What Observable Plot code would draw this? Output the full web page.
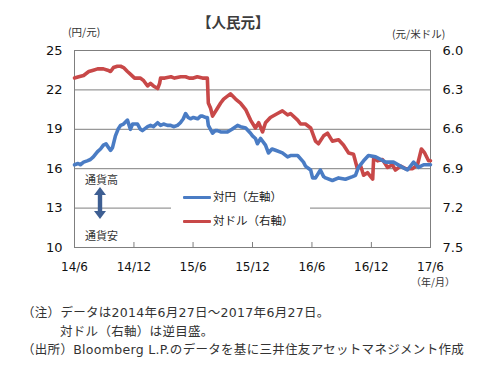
<!DOCTYPE html>
<html>
<head>
<meta charset="utf-8">
<script src="https://cdn.jsdelivr.net/npm/d3@7"></script>
<script src="https://cdn.jsdelivr.net/npm/@observablehq/plot@0.6"></script>
<style>
  html, body { margin: 0; padding: 0; background: #fff; }
  #wrap { position: relative; width: 499px; height: 371px; overflow: hidden; background: #fff;
          font-family: 'DejaVu Sans', 'Noto Sans CJK JP', sans-serif; color: #222; }
  .abs { position: absolute; white-space: nowrap; line-height: 1; }
  .note { line-height: 13px; height: 13px; font-size: 12.5px; letter-spacing: 0.3px; color: #333;
          font-family: 'DejaVu Sans', 'Noto Sans CJK JP', sans-serif; }
  #chart { position: absolute; left: 0; top: 0; }
</style>
</head>
<body>
<div id="wrap">
  <div id="chart"></div>
  <div class="abs" id="title" style="left:197px; top:15px; font-size:14.5px; font-weight:bold; color:#3c3c3c; font-family:'Noto Sans CJK JP',sans-serif;"></div>
  <div class="abs" id="unitL" style="left:68px; top:27px; font-size:10.5px; color:#333; font-family:'Noto Sans CJK JP',sans-serif;"></div>
  <div class="abs" id="unitR" style="left:392px; top:29px; font-size:10.5px; color:#333; font-family:'Noto Sans CJK JP',sans-serif;"></div>
  <div class="abs" id="unitX" style="left:411px; top:277px; font-size:10px; color:#333; font-family:'Noto Sans CJK JP',sans-serif;"></div>
  <div class="abs" id="up" style="left:85px; top:174px; font-size:11px; color:#333; font-family:'Noto Sans CJK JP',sans-serif;"></div>
  <div class="abs" id="down" style="left:85px; top:230px; font-size:11px; color:#333; font-family:'Noto Sans CJK JP',sans-serif;"></div>
  <svg class="abs" style="left:93px; top:187px;" width="14" height="32" viewBox="0 0 14 32">
    <path d="M7,0 L13,8 L9.2,8 L9.2,24 L13,24 L7,32 L1,24 L4.8,24 L4.8,8 L1,8 Z" fill="#3d5e92"/>
  </svg>
  <div class="abs" id="legend" style="left:171px; top:186px; width:139px; height:46px; background:#fff;">
    <div class="abs" style="left:12px; top:9.5px; width:28px; height:3.6px; background:#4a7cc4; border-radius:1px;"></div>
    <div class="abs" id="legJ" style="left:42px; top:5px; font-size:11.5px; color:#222; font-family:'Noto Sans CJK JP',sans-serif;"></div>
    <div class="abs" style="left:12px; top:33.5px; width:28px; height:3.6px; background:#c84848; border-radius:1px;"></div>
    <div class="abs" id="legU" style="left:42px; top:29px; font-size:11.5px; color:#222; font-family:'Noto Sans CJK JP',sans-serif;"></div>
  </div>
  <div class="abs note" id="note1" style="left:22px; top:306px;"></div>
  <div class="abs note" id="note2" style="left:60px; top:324.5px;"></div>
  <div class="abs note" id="note3" style="left:22px; top:343px;"></div>
</div>
<script>
// ---------- texts ----------
const titleText = "【人民元】";
const unitLeft = "(円/元)";
const unitRight = "(元/米ドル)";
const unitX = "（年/月）";
const upText = "通貨高";
const downText = "通貨安";
const legendJpy = "対円（左軸）";
const legendUsd = "対ドル（右軸）";
const notes = [
  "（注）データは2014年6月27日～2017年6月27日。",
  "対ドル（右軸）は逆目盛。",
  "（出所）Bloomberg L.P.のデータを基に三井住友アセットマネジメント作成"
];

// ---------- axes ----------
const xDomain = ["2014-06-27", "2017-06-27"];
const xTickDates = ["2014-06-27", "2014-12-27", "2015-06-27", "2015-12-27", "2016-06-27", "2016-12-27", "2017-06-27"];
const xTickLabels = ["14/6", "14/12", "15/6", "15/12", "16/6", "16/12", "17/6"];
const leftTicks = [25, 22, 19, 16, 13, 10];
const rightTickLabels = ["6.0", "6.3", "6.6", "6.9", "7.2", "7.5"];
const gridValues = [22, 19, 16, 13];

// ---------- CNY/JPY (left axis, 円/元) ----------
const jpyDates = [
  "2014-06-27","2014-07-08","2014-07-15","2014-07-25","2014-08-05","2014-08-15","2014-08-24","2014-09-06",
  "2014-09-15","2014-09-24","2014-10-02","2014-10-10","2014-10-16","2014-10-22","2014-10-31","2014-11-08",
  "2014-11-16","2014-11-25","2014-12-07","2014-12-16","2014-12-23","2015-01-07","2015-01-16","2015-01-22",
  "2015-02-07","2015-02-16","2015-02-25","2015-03-10","2015-03-19","2015-03-28","2015-04-09","2015-04-19",
  "2015-04-28","2015-05-10","2015-05-19","2015-05-28","2015-06-04","2015-06-12","2015-06-19","2015-06-28",
  "2015-07-11","2015-07-20","2015-07-26","2015-08-04","2015-08-10","2015-08-13","2015-08-26","2015-09-03",
  "2015-09-10","2015-09-20","2015-10-11","2015-10-25","2015-11-11","2015-11-20","2015-12-06","2015-12-21",
  "2015-12-27","2016-01-05","2016-01-11","2016-01-21","2016-02-05","2016-02-14","2016-02-25","2016-03-07",
  "2016-03-28","2016-04-13","2016-04-22","2016-05-14","2016-06-01","2016-06-07","2016-06-23","2016-06-29",
  "2016-07-08","2016-07-23","2016-08-02","2016-08-08","2016-08-29","2016-09-17","2016-10-08","2016-10-30",
  "2016-11-08","2016-11-17","2016-12-03","2016-12-18","2017-01-09","2017-02-09","2017-03-05","2017-04-02",
  "2017-04-17","2017-05-06","2017-05-21","2017-06-06","2017-06-27"
];
const jpyValues = [
  16.3,16.4,16.3,16.5,16.6,16.7,16.9,17.3,
  17.5,17.8,17.9,17.6,17.4,17.6,18.5,19.0,
  19.3,19.4,19.7,19.0,19.4,19.4,19.0,18.9,
  19.2,19.3,19.2,19.5,19.3,19.4,19.3,19.3,
  19.2,19.3,19.5,19.8,20.2,19.9,19.8,19.9,
  19.8,20.0,20.0,19.9,19.9,19.3,18.7,18.9,
  18.9,18.8,18.8,19.0,19.3,19.2,19.1,18.7,
  18.5,18.3,17.9,18.3,17.8,17.2,17.5,17.4,
  17.2,16.9,17.0,17.0,16.5,16.2,15.9,15.3,
  15.3,15.9,15.4,15.3,15.1,15.3,15.2,15.4,
  15.5,16.1,16.6,17.0,16.9,16.5,16.5,16.1,
  15.9,16.5,16.1,16.3,16.3
];

// ---------- CNY/USD (right axis, 元/米ドル, inverted) ----------
const usdDates = [
  "2014-06-27","2014-07-10","2014-07-25","2014-08-10","2014-08-24","2014-09-06","2014-09-24","2014-10-07",
  "2014-10-16","2014-10-25","2014-11-06","2014-11-16","2014-11-25","2014-12-07","2014-12-16","2014-12-29",
  "2015-01-16","2015-01-26","2015-02-07","2015-02-16","2015-02-25","2015-03-10","2015-03-16","2015-03-19",
  "2015-04-01","2015-04-20","2015-05-01","2015-05-20","2015-06-04","2015-06-15","2015-06-28","2015-07-10",
  "2015-07-26","2015-08-10","2015-08-13","2015-08-20",
  "2015-08-26","2015-09-10","2015-09-20","2015-09-29","2015-10-20","2015-11-05","2015-11-20","2015-12-06",
  "2015-12-21","2016-01-05","2016-01-15","2016-01-27","2016-02-05","2016-02-20","2016-03-13","2016-03-28",
  "2016-04-13","2016-04-22","2016-05-14","2016-05-23","2016-06-07","2016-06-23","2016-07-08","2016-07-17",
  "2016-08-02","2016-08-14","2016-08-29","2016-09-17","2016-10-02","2016-10-18","2016-11-02","2016-11-14",
  "2016-11-24","2016-12-03","2016-12-15","2016-12-31","2017-01-03","2017-01-15","2017-01-30","2017-02-15",
  "2017-03-02","2017-03-11","2017-03-27","2017-04-11","2017-05-03","2017-05-18","2017-05-30","2017-06-09",
  "2017-06-21","2017-06-27"
];
const usdValues = [
  6.21,6.20,6.19,6.16,6.15,6.14,6.14,6.15,
  6.16,6.13,6.12,6.12,6.13,6.16,6.18,6.21,
  6.21,6.23,6.27,6.25,6.27,6.29,6.25,6.21,
  6.21,6.20,6.21,6.20,6.20,6.21,6.21,6.20,
  6.21,6.21,6.40,6.44,
  6.50,6.44,6.40,6.37,6.33,6.37,6.40,6.45,
  6.53,6.59,6.55,6.62,6.55,6.51,6.48,6.46,
  6.49,6.48,6.53,6.56,6.56,6.59,6.69,6.71,
  6.65,6.63,6.69,6.68,6.72,6.78,6.79,6.90,
  6.88,6.95,6.93,6.98,6.82,6.84,6.83,6.89,
  6.87,6.91,6.88,6.90,6.90,6.87,6.75,6.78,
  6.84,6.84
];

// ---------- build ----------
const parse = d3.utcParse("%Y-%m-%d");
const jpy = jpyDates.map((d, i) => ({date: parse(d), value: jpyValues[i]}));
// right axis 6.0 (top) .. 7.5 (bottom) shares the left 25 .. 10 range
const rightToLeft = r => 25 - (r - 6.0) * 10;
const usd = usdDates.map((d, i) => ({date: parse(d), value: rightToLeft(usdValues[i])}));
const xTicks = xTickDates.map(parse);

document.getElementById("title").textContent = titleText;
document.getElementById("unitL").textContent = unitLeft;
document.getElementById("unitR").textContent = unitRight;
document.getElementById("unitX").textContent = unitX;
document.getElementById("up").textContent = upText;
document.getElementById("down").textContent = downText;
document.getElementById("legJ").textContent = legendJpy;
document.getElementById("legU").textContent = legendUsd;
document.getElementById("note1").textContent = notes[0];
document.getElementById("note2").textContent = notes[1];
document.getElementById("note3").textContent = notes[2];

const chart = Plot.plot({
  width: 499,
  height: 300,
  marginLeft: 74,
  marginRight: 69,
  marginTop: 50,
  marginBottom: 53,
  style: {fontFamily: "'DejaVu Sans', 'Noto Sans CJK JP', sans-serif", fontSize: "13px", color: "#111", background: "transparent"},
  x: {type: "utc", domain: xDomain.map(parse)},
  y: {domain: [10, 25]},
  marks: [
    Plot.ruleY(gridValues, {stroke: "#7f7f7f", strokeWidth: 1}),
    Plot.frame({stroke: "#7f7f7f", strokeWidth: 1}),
    Plot.axisY({anchor: "left", ticks: leftTicks, tickSize: 0, tickPadding: 12, fontSize: 13, label: null}),
    Plot.axisY({anchor: "right", ticks: leftTicks, tickSize: 0, tickPadding: 12, fontSize: 13, label: null,
      tickFormat: d => rightTickLabels[leftTicks.indexOf(d)]}),
    Plot.axisX({ticks: xTicks, tickSize: -5, tickFormat: () => "", stroke: "#7f7f7f", label: null}),
    Plot.axisX({ticks: xTicks, tickSize: 0, tickPadding: 15, fontSize: 12, label: null,
      tickFormat: d => xTickLabels[xTicks.findIndex(t => +t === +d)]}),
    Plot.line(usd, {x: "date", y: "value", stroke: "#c84848", strokeWidth: 3.6, strokeLinejoin: "round"}),
    Plot.line(jpy, {x: "date", y: "value", stroke: "#4a7cc4", strokeWidth: 3.6, strokeLinejoin: "round"})
  ]
});
document.getElementById("chart").appendChild(chart);
</script>
</body>
</html>
